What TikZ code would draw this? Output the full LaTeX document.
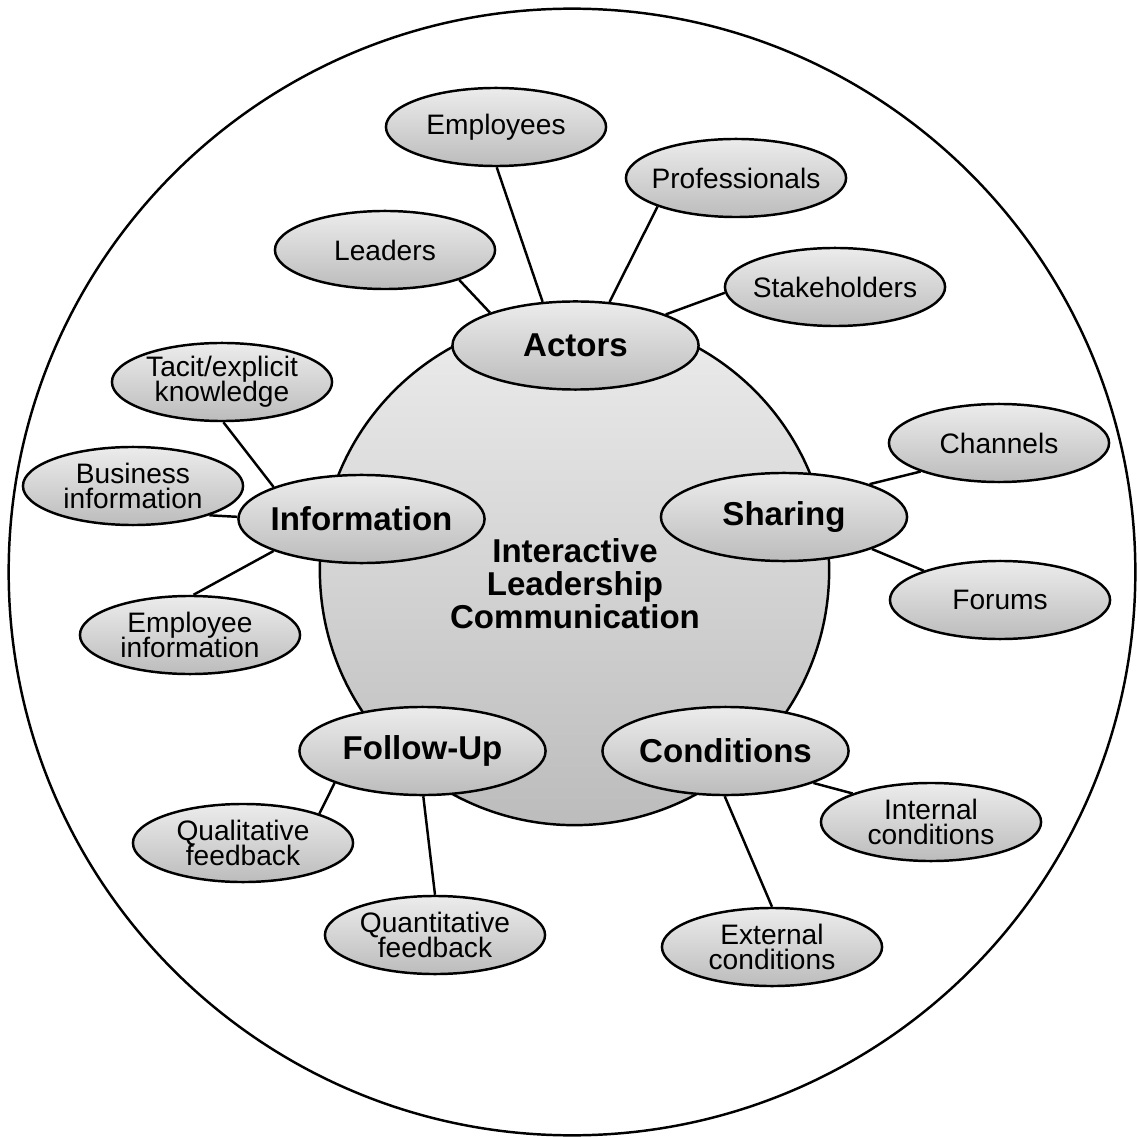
\documentclass[tikz,border=0pt]{standalone}
\usepackage{fontspec}
\setmainfont{Liberation Sans}
\usetikzlibrary{shapes.geometric}
\definecolor{lighttop}{HTML}{ECECEC}
\definecolor{darkbottom}{HTML}{BCBCBC}
\newcommand\leaffont{\fontsize{8}{7.2}\selectfont\lineskiplimit=-5pt\relax}
\tikzset{
topic/.style={
  ellipse,
  draw,
  line width=0.7pt,
  top color=lighttop,
  bottom color=darkbottom,
  minimum width=2.46cm,
  minimum height=0.88cm,
  inner xsep=-2mm,
  inner ysep=-2mm,
  font=\fontsize{9.4}{9.4}\selectfont\bfseries
},
subtopic/.style={
  topic,
  minimum width=2.2cm,
  minimum height=0.78cm,
  align=center,
  font=\leaffont
},
link/.style={line width=0.7pt}
}
\begin{document}
\begin{tikzpicture}[x=0.01cm,y=-0.01cm]
  \useasboundingbox (0,0) rectangle (1137,1137);
  \node[draw, circle, line width=0.7pt, minimum size=11.26cm] (frame) at (572,572) {};
  \node[draw, circle, line width=0.7pt, top color=lighttop, bottom color=darkbottom,
        minimum size=5.09cm] (ilc) at (574.5,570.5) {};
  \node[align=center, font=\fontsize{9.4}{9.4}\selectfont\bfseries] (ilctext) at (575,584)
        {Interactive\\Leadership\\Communication};

  \node[topic] (actors) at (575.5,345.5) {Actors};
  \node[topic] (information) at (361.5,519) {Information};
  \node[topic] (sharing) at (784,517) {Sharing};
  \node[topic] (followup) at (422.5,751) {Follow-Up};
  \node[topic] (conditions) at (725.5,751) {Conditions};

  \node[subtopic] (employees) at (496,127) {Employees};
  \node[subtopic] (professionals) at (736,178) {Professionals};
  \node[subtopic] (leaders) at (385,250) {Leaders};
  \node[subtopic] (stakeholders) at (835,287) {Stakeholders};
  \node[subtopic] (tacit) at (222,382) {Tacit/explicit\\knowledge};
  \node[subtopic] (business) at (133,486) {Business\\information};
  \node[subtopic] (empinfo) at (190,635) {Employee\\information};
  \node[subtopic] (channels) at (999,443) {Channels};
  \node[subtopic] (forums) at (1000,600) {Forums};
  \node[subtopic] (qualitative) at (243,843) {Qualitative\\feedback};
  \node[subtopic] (quantitative) at (435,935) {Quantitative\\feedback};
  \node[subtopic] (internal) at (931,822) {Internal\\conditions};
  \node[subtopic] (external) at (772,947) {External\\conditions};

  \draw[link] (actors.159) -- (leaders.-22);
  \draw[link] (actors.127) -- (employees.-89);
  \draw[link] (actors.52) -- (professionals.-160);
  \draw[link] (actors.19) -- (stakeholders.-177);
  \draw[link] (information.160) -- (tacit.-88);
  \draw[link] (information.179) -- (business.-21);
  \draw[link] (information.200) -- (empinfo.85);
  \draw[link] (sharing.21) -- (channels.-160);
  \draw[link] (sharing.-20) -- (forums.159);
  \draw[link] (followup.200) -- (qualitative.21);
  \draw[link] (followup.-89) -- (quantitative.90);
  \draw[link] (conditions.-20) -- (internal.160);
  \draw[link] (conditions.-91) -- (external.90);
\end{tikzpicture}
\end{document}
